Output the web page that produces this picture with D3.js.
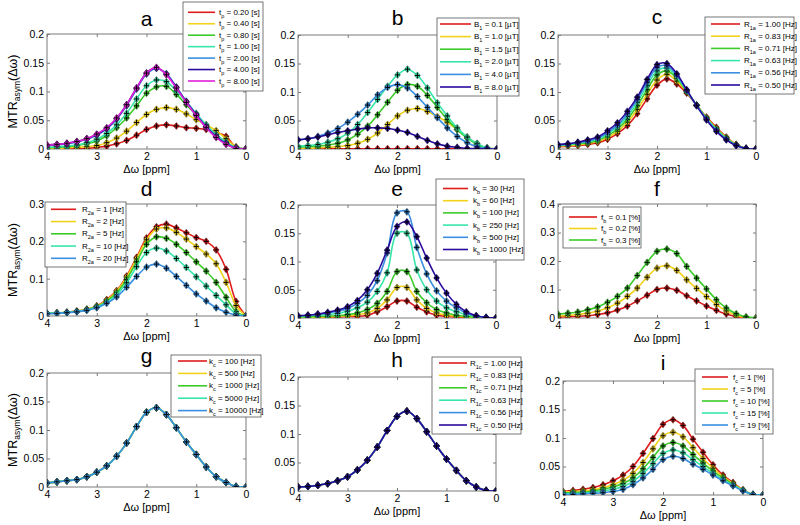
<!DOCTYPE html>
<html><head><meta charset="utf-8">
<script src="https://cdn.jsdelivr.net/npm/d3@7"></script>
<style>
body{margin:0;background:#fff}
text{font-family:"Liberation Sans",Arial,sans-serif;fill:#000}
</style>
</head><body>
<svg id="chart" width="800" height="525"></svg>
<script>
// ---------------- DATA ----------------
const ppm = [4,3.8,3.6,3.4,3.2,3,2.8,2.6,2.4,2.2,2,1.8,1.6,1.4,1.2,1,0.8,0.6,0.4,0.2,0];

const aLabels = ["0.20","0.40","0.80","1.00","2.00","4.00","8.00"];
const aSeries = [
 [0,0,0,0.001,0.001,0.003,0.005,0.009,0.015,0.024,0.034,0.040,0.042,0.040,0.037,0.036,0.034,0.029,0.022,0.003,0],
 [0.001,0.001,0.002,0.003,0.004,0.006,0.011,0.019,0.031,0.046,0.060,0.069,0.072,0.069,0.061,0.051,0.042,0.032,0.018,0.004,0],
 [0.002,0.003,0.004,0.006,0.009,0.014,0.023,0.037,0.054,0.075,0.097,0.108,0.109,0.095,0.077,0.059,0.040,0.024,0.012,0.002,0],
 [0.003,0.004,0.005,0.007,0.011,0.017,0.027,0.042,0.062,0.087,0.110,0.120,0.117,0.101,0.082,0.062,0.042,0.025,0.012,0.002,0],
 [0.006,0.007,0.009,0.012,0.017,0.024,0.035,0.052,0.075,0.104,0.130,0.140,0.131,0.108,0.083,0.060,0.039,0.022,0.010,0.002,0],
 [0.007,0.008,0.010,0.013,0.018,0.025,0.036,0.053,0.077,0.106,0.132,0.141,0.130,0.107,0.082,0.059,0.038,0.021,0.009,0.001,0],
 [0.007,0.008,0.010,0.013,0.018,0.026,0.037,0.054,0.077,0.106,0.132,0.142,0.129,0.106,0.081,0.058,0.037,0.020,0.008,0.001,0]
];

const bLabels = ["0.1","1.0","1.5","2.0","4.0","8.0"];
const bSeries = [
 [0.0005,0.0005,0.0005,0.0005,0.0005,0.0005,0.0005,0.0005,0.0005,0.0005,0.0005,0.0005,0.0005,0.0005,0.0005,0.0005,0.0005,0.0005,0.0005,0,0],
 [0.001,0.001,0.002,0.003,0.004,0.006,0.010,0.017,0.028,0.043,0.058,0.068,0.071,0.066,0.057,0.047,0.034,0.021,0.009,0.002,0],
 [0.003,0.004,0.005,0.007,0.010,0.016,0.026,0.040,0.060,0.082,0.103,0.113,0.110,0.094,0.073,0.052,0.034,0.019,0.008,0.001,0],
 [0.005,0.006,0.008,0.012,0.018,0.028,0.043,0.064,0.087,0.110,0.130,0.140,0.129,0.107,0.081,0.058,0.037,0.021,0.010,0.002,0],
 [0.016,0.018,0.022,0.028,0.036,0.047,0.061,0.077,0.095,0.108,0.113,0.107,0.092,0.073,0.055,0.037,0.022,0.011,0.004,0.001,0],
 [0.016,0.018,0.021,0.025,0.029,0.032,0.035,0.037,0.037,0.036,0.033,0.029,0.022,0.015,0.009,0.005,0.003,0.001,0.0005,0,0]
];

const cLabels = ["1.00","0.83","0.71","0.63","0.56","0.50"];
const cSeries = [
 [0.004,0.005,0.006,0.008,0.011,0.017,0.027,0.041,0.062,0.088,0.112,0.123,0.114,0.098,0.077,0.056,0.038,0.021,0.008,0.001,0],
 [0.005,0.006,0.007,0.010,0.013,0.020,0.031,0.047,0.069,0.096,0.121,0.131,0.119,0.100,0.077,0.055,0.036,0.020,0.008,0.001,0],
 [0.006,0.007,0.009,0.011,0.015,0.023,0.035,0.052,0.076,0.104,0.130,0.137,0.124,0.101,0.077,0.054,0.035,0.019,0.007,0.001,0],
 [0.006,0.008,0.010,0.013,0.017,0.026,0.039,0.057,0.082,0.111,0.137,0.142,0.127,0.102,0.077,0.053,0.034,0.018,0.007,0.001,0],
 [0.007,0.009,0.011,0.014,0.019,0.029,0.042,0.062,0.087,0.117,0.143,0.146,0.130,0.103,0.076,0.052,0.032,0.017,0.006,0.001,0],
 [0.008,0.009,0.012,0.016,0.021,0.032,0.046,0.066,0.091,0.122,0.148,0.150,0.132,0.104,0.076,0.051,0.031,0.016,0.006,0.001,0]
];

const dLabels = ["1","2","5","10","20"];
const dSeries = [
 [0.007,0.008,0.010,0.013,0.018,0.027,0.044,0.068,0.107,0.157,0.209,0.239,0.246,0.236,0.223,0.210,0.200,0.177,0.125,0.039,0],
 [0.007,0.008,0.010,0.013,0.018,0.026,0.042,0.066,0.104,0.153,0.204,0.233,0.236,0.224,0.206,0.186,0.166,0.140,0.090,0.028,0],
 [0.007,0.008,0.010,0.012,0.017,0.025,0.040,0.062,0.098,0.145,0.192,0.212,0.208,0.192,0.170,0.145,0.120,0.090,0.050,0.012,0],
 [0.007,0.008,0.009,0.012,0.016,0.024,0.037,0.057,0.089,0.132,0.170,0.182,0.174,0.154,0.130,0.105,0.080,0.055,0.030,0.006,0],
 [0.006,0.007,0.009,0.011,0.015,0.022,0.034,0.051,0.077,0.106,0.131,0.139,0.128,0.106,0.082,0.059,0.040,0.022,0.010,0.002,0]
];

const eLabels = ["30","60","100","250","500","1000"];
const eSeries = [
 [0.001,0.001,0.001,0.002,0.002,0.003,0.003,0.005,0.011,0.020,0.030,0.030,0.019,0.011,0.005,0.003,0.002,0.001,0.001,0,0],
 [0.001,0.001,0.002,0.002,0.003,0.004,0.006,0.009,0.017,0.032,0.054,0.054,0.032,0.017,0.009,0.005,0.003,0.002,0.001,0,0],
 [0.002,0.002,0.003,0.003,0.004,0.006,0.009,0.015,0.026,0.047,0.082,0.082,0.047,0.027,0.015,0.009,0.005,0.003,0.001,0,0],
 [0.003,0.004,0.005,0.006,0.008,0.012,0.018,0.028,0.047,0.080,0.150,0.150,0.085,0.050,0.030,0.018,0.011,0.006,0.003,0.001,0],
 [0.004,0.005,0.007,0.009,0.012,0.017,0.026,0.040,0.066,0.115,0.186,0.188,0.125,0.078,0.048,0.030,0.018,0.009,0.004,0.001,0],
 [0.004,0.005,0.007,0.010,0.014,0.020,0.031,0.050,0.079,0.120,0.162,0.170,0.144,0.106,0.071,0.044,0.024,0.011,0.004,0.001,0]
];

const fLabels = ["0.1","0.2","0.3"];
const fSeries = [
 [0.003,0.005,0.006,0.008,0.012,0.018,0.028,0.041,0.060,0.080,0.100,0.105,0.097,0.078,0.060,0.042,0.027,0.014,0.005,0.001,0],
 [0.007,0.009,0.012,0.017,0.024,0.036,0.052,0.076,0.105,0.143,0.175,0.183,0.167,0.134,0.104,0.075,0.047,0.025,0.010,0.002,0],
 [0.014,0.017,0.021,0.029,0.039,0.055,0.076,0.105,0.149,0.195,0.234,0.242,0.226,0.181,0.140,0.102,0.064,0.035,0.015,0.004,0]
];

const gLabels = ["100","500","1000","5000","10000"];
const gSeries = [
 [0.007,0.009,0.011,0.013,0.018,0.026,0.037,0.054,0.077,0.106,0.131,0.139,0.127,0.104,0.079,0.057,0.035,0.018,0.008,0.001,0],
 [0.007,0.009,0.011,0.013,0.018,0.026,0.037,0.054,0.077,0.106,0.131,0.139,0.127,0.104,0.079,0.057,0.035,0.018,0.008,0.001,0],
 [0.007,0.009,0.011,0.013,0.018,0.026,0.037,0.054,0.077,0.106,0.131,0.139,0.127,0.104,0.079,0.057,0.035,0.018,0.008,0.001,0],
 [0.007,0.009,0.011,0.013,0.018,0.026,0.037,0.054,0.077,0.106,0.131,0.139,0.127,0.104,0.079,0.057,0.035,0.018,0.008,0.001,0],
 [0.007,0.009,0.011,0.013,0.018,0.026,0.037,0.054,0.077,0.106,0.131,0.139,0.127,0.104,0.079,0.057,0.035,0.018,0.008,0.001,0]
];

const hLabels = ["1.00","0.83","0.71","0.63","0.56","0.50"];
const hSeries = [
 [0.007,0.008,0.010,0.013,0.018,0.025,0.037,0.054,0.077,0.106,0.131,0.140,0.127,0.104,0.079,0.056,0.036,0.018,0.007,0.001,0],
 [0.007,0.008,0.010,0.013,0.018,0.025,0.037,0.054,0.077,0.106,0.131,0.140,0.127,0.104,0.079,0.056,0.036,0.018,0.007,0.001,0],
 [0.007,0.008,0.010,0.013,0.018,0.025,0.037,0.054,0.077,0.106,0.131,0.140,0.127,0.104,0.079,0.056,0.036,0.018,0.007,0.001,0],
 [0.007,0.008,0.010,0.013,0.018,0.025,0.037,0.054,0.077,0.106,0.131,0.140,0.127,0.104,0.079,0.056,0.036,0.018,0.007,0.001,0],
 [0.007,0.008,0.010,0.013,0.018,0.025,0.037,0.054,0.077,0.106,0.131,0.140,0.127,0.104,0.079,0.056,0.036,0.018,0.007,0.001,0],
 [0.007,0.008,0.010,0.013,0.018,0.025,0.037,0.054,0.077,0.106,0.131,0.140,0.127,0.104,0.079,0.056,0.036,0.018,0.007,0.001,0]
];

const iLabels = ["1","5","10","15","19"];
const iSeries = [
 [0.006,0.008,0.010,0.013,0.018,0.025,0.035,0.050,0.073,0.099,0.124,0.132,0.122,0.098,0.075,0.053,0.035,0.022,0.009,0.001,0],
 [0.005,0.006,0.007,0.009,0.013,0.018,0.026,0.038,0.057,0.081,0.104,0.110,0.102,0.083,0.064,0.047,0.032,0.020,0.009,0.001,0],
 [0.004,0.004,0.005,0.007,0.010,0.014,0.020,0.030,0.046,0.066,0.086,0.092,0.086,0.071,0.056,0.042,0.030,0.019,0.008,0.001,0],
 [0.002,0.003,0.003,0.005,0.007,0.010,0.015,0.024,0.038,0.055,0.073,0.079,0.074,0.062,0.050,0.038,0.027,0.017,0.008,0.001,0],
 [0.001,0.001,0.002,0.003,0.004,0.006,0.010,0.018,0.030,0.045,0.062,0.068,0.064,0.054,0.045,0.035,0.025,0.016,0.007,0.001,0]
];

const xTicks = [4,3,2,1,0];
const yTicks02 = [0,0.05,0.1,0.15,0.2];
const yTicks03 = [0,0.1,0.2,0.3];
const yTicks04 = [0,0.1,0.2,0.3,0.4];

// ---------------- STYLE / LAYOUT ----------------
const palette = ["#e01b1b","#f2d21a","#3ccc2a","#38e6aa","#3a8fe0","#2b0b9e","#e020d8"];

const panels = [
 {t:"a",L:47,R:246,T:34,B:149,yMax:0.2,yt:yTicks02,ty:26,ylab:true,sym:"t",sub:"p",unit:"[s]",labels:aLabels,series:aSeries,
  lg:{x:183,y:2,w:80,h:89,y0:12.3,dy:11.45,l1:188,l2:215,tx:219}},
 {t:"b",L:298,R:497,T:35,B:149,yMax:0.2,yt:yTicks02,ty:25,sym:"B",sub:"1",unit:"[µT]",labels:bLabels,series:bSeries,
  lg:{x:437,y:18,w:82,h:78,y0:24,dy:12.6,l1:440,l2:471,tx:474}},
 {t:"c",L:558,R:756,T:35,B:149,yMax:0.2,yt:yTicks02,ty:24,sym:"R",sub:"1a",unit:"[Hz]",labels:cLabels,series:cSeries,
  lg:{x:705,y:17,w:89,h:77,y0:24,dy:12.2,l1:711,l2:740,tx:744}},
 {t:"d",L:47,R:246,T:204,B:316,yMax:0.3,yt:yTicks03,ty:196,ylab:true,sym:"R",sub:"2a",unit:"[Hz]",labels:dLabels,series:dSeries,
  lg:{x:45,y:202,w:81,h:65,y0:209.3,dy:12.25,l1:51,l2:76,tx:82}},
 {t:"e",L:298,R:496,T:205,B:318,yMax:0.2,yt:yTicks02,ty:196,sym:"k",sub:"b",unit:"[Hz]",labels:eLabels,series:eSeries,
  lg:{x:436,y:179,w:88,h:81,y0:188.5,dy:12.2,l1:443,l2:468,tx:473}},
 {t:"f",L:558,R:756,T:204,B:318,yMax:0.4,yt:yTicks04,ty:196,sym:"f",sub:"b",unit:"[%]",labels:fLabels,series:fSeries,
  lg:{x:563,y:207,w:78,h:41,y0:217,dy:11.5,l1:569,l2:597,tx:601}},
 {t:"g",L:47,R:246,T:373,B:487,yMax:0.2,yt:yTicks02,ty:363,ylab:true,sym:"k",sub:"c",unit:"[Hz]",labels:gLabels,series:gSeries,
  lg:{x:171,y:355,w:90,h:62,y0:361,dy:12.4,l1:178,l2:207,tx:209}},
 {t:"h",L:298,R:496,T:377,B:491,yMax:0.2,yt:yTicks02,ty:367,sym:"R",sub:"1c",unit:"[Hz]",labels:hLabels,series:hSeries,
  lg:{x:432,y:357,w:89,h:77,y0:363,dy:12.4,l1:439,l2:467,tx:470}},
 {t:"i",L:563,R:763,T:381,B:495,yMax:0.2,yt:yTicks02,ty:370,sym:"f",sub:"c",unit:"[%]",labels:iLabels,series:iSeries,
  lg:{x:695,y:369,w:78,h:65,y0:377,dy:12,l1:702,l2:728,tx:733}}
];

const svg = d3.select("#chart");
const axisCol = "#7a7a7a";
const fmt = d => String(+d.toFixed(2));

panels.forEach((p, pi) => {
  const g = svg.append("g");
  const x = d3.scaleLinear().domain([4,0]).range([p.L,p.R]);
  const y = d3.scaleLinear().domain([0,p.yMax]).range([p.B,p.T]);

  const cid = "clip" + pi;
  svg.append("clipPath").attr("id",cid).append("rect")
     .attr("x",p.L).attr("y",p.T-2).attr("width",p.R-p.L).attr("height",p.B-p.T+2);

  const gx = g.append("g").attr("transform",`translate(0,${p.B})`)
     .call(d3.axisBottom(x).tickValues(xTicks).tickSize(-3).tickPadding(4).tickFormat(fmt));
  const gy = g.append("g").attr("transform",`translate(${p.L},0)`)
     .call(d3.axisLeft(y).tickValues(p.yt).tickSize(-3).tickPadding(3).tickFormat(fmt));
  const gt = g.append("g").attr("transform",`translate(0,${p.T})`)
     .call(d3.axisTop(x).tickValues(xTicks).tickSize(-3).tickFormat(""));
  const gr = g.append("g").attr("transform",`translate(${p.R},0)`)
     .call(d3.axisRight(y).tickValues(p.yt).tickSize(-3).tickFormat(""));
  [gx,gy,gt,gr].forEach(a => {
    a.select(".domain").remove();
    a.selectAll("line").attr("stroke",axisCol);
    a.selectAll("text").attr("font-size",10.5).attr("font-family","Liberation Sans, Arial, sans-serif").attr("fill","#111");
  });
  g.append("rect").attr("x",p.L).attr("y",p.T).attr("width",p.R-p.L).attr("height",p.B-p.T)
   .attr("fill","none").attr("stroke",axisCol).attr("stroke-width",1);

  g.append("text").attr("x",(p.L+p.R)/2).attr("y",p.ty).attr("text-anchor","middle")
   .attr("font-size",21).text(p.t);

  g.append("text").attr("x",(p.L+p.R)/2).attr("y",p.B+24).attr("text-anchor","middle")
   .attr("font-size",11).text("Δω [ppm]");

  if (p.ylab) {
    const yl = g.append("text").attr("transform",`translate(17,${(p.T+p.B)/2}) rotate(-90)`)
      .attr("text-anchor","middle").attr("font-size",12.5);
    yl.append("tspan").text("MTR");
    yl.append("tspan").attr("font-size",8.5).attr("dy",3).text("asym");
    yl.append("tspan").attr("dy",-3).text("(Δω)");
  }

  const line = d3.line().x((d,i)=>x(ppm[i])).y(d=>y(d)).curve(d3.curveCatmullRom.alpha(0.5));
  const plot = g.append("g").attr("clip-path",`url(#${cid})`);
  p.series.forEach((s, si) => {
    const col = palette[si];
    const sg = plot.append("g");
    sg.append("path").datum(s).attr("d",line).attr("fill","none")
      .attr("stroke",col).attr("stroke-width",1.6);
    const m = sg.selectAll("g.m").data(s).join("g")
      .attr("transform",(d,i)=>`translate(${x(ppm[i])},${y(d)})`);
    m.append("path").attr("d","M0,-3.6L3,0L0,3.6L-3,0Z").attr("fill",col)
      .attr("stroke","#000").attr("stroke-opacity",0.55).attr("stroke-width",0.6);
    m.append("path").attr("d","M-2.4,0H2.4M0,-2.6V2.6").attr("stroke","#000").attr("stroke-width",1);
  });

  const lg = p.lg;
  const lgG = g.append("g");
  lgG.append("rect").attr("x",lg.x).attr("y",lg.y).attr("width",lg.w).attr("height",lg.h)
     .attr("fill","#fff").attr("stroke","#555").attr("stroke-width",0.8);
  p.labels.forEach((lab, li) => {
    const yy = lg.y0 + li*lg.dy;
    lgG.append("line").attr("x1",lg.l1).attr("x2",lg.l2).attr("y1",yy).attr("y2",yy)
       .attr("stroke",palette[li]).attr("stroke-width",1.6);
    const t = lgG.append("text").attr("x",lg.tx).attr("y",yy+2.5).attr("font-size",8);
    t.append("tspan").text(p.sym);
    t.append("tspan").attr("font-size",5.5).attr("dy",3).text(p.sub);
    t.append("tspan").attr("dy",-3).text(" = " + lab + " " + p.unit);
  });
});
</script>
</body></html>
